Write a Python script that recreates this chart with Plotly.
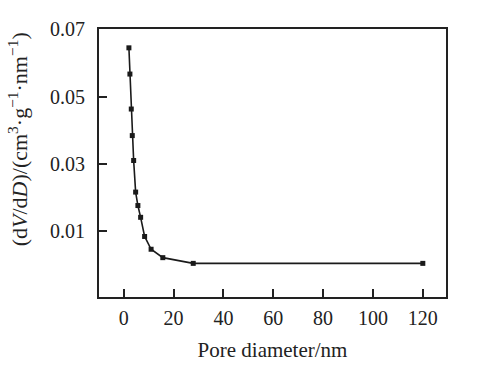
import plotly.graph_objects as go

pore_diameter = [2.1, 2.5, 3.05, 3.45, 4.0, 4.8, 5.7, 6.8, 8.4, 11.0, 15.7, 27.9, 120.0]
dv_dd = [0.0645, 0.0567, 0.0463, 0.0384, 0.0310, 0.0216, 0.0176, 0.0141, 0.0084, 0.0046, 0.0021, 0.0004, 0.0004]

x_ticks = [0, 20, 40, 60, 80, 100, 120]
y_ticks = [0.01, 0.03, 0.05, 0.07]

font_family = "Liberation Serif, Times New Roman, serif"

fig = go.Figure()
fig.add_trace(go.Scatter(
    x=pore_diameter, y=dv_dd, mode="lines+markers",
    line=dict(color="#1a1a1a", width=1.6),
    marker=dict(symbol="square", size=5, color="#1a1a1a"),
    showlegend=False,
))

fig.update_layout(
    width=478, height=373,
    margin=dict(l=99, r=32, t=29, b=76),
    paper_bgcolor="white", plot_bgcolor="white",
    font=dict(family=font_family, color="#222", size=20),
    xaxis=dict(
        range=[-9.9, 129.3], tickvals=x_ticks, ticks="inside", ticklen=8,
        tickwidth=1.5, tickcolor="#222",
        showline=True, linecolor="#222", linewidth=2, mirror=True,
        showgrid=False, zeroline=False,
        tickfont=dict(size=20), ticklabelstandoff=2,
        title=dict(text="Pore diameter/nm", font=dict(size=21), standoff=14),
    ),
    yaxis=dict(
        range=[-0.0096, 0.0701], tickvals=y_ticks, tickformat=".2f",
        ticks="inside", ticklen=8, tickwidth=1.5, tickcolor="#222",
        showline=True, linecolor="#222", linewidth=2, mirror=True,
        showgrid=False, zeroline=False,
        tickfont=dict(size=20), ticklabelstandoff=8,
    ),
    annotations=[dict(
        text="(d<i>V</i>/d<i>D</i>)/(cm<sup>3</sup>·g<sup>−1</sup>·nm<sup>−1</sup>)",
        xref="paper", yref="paper", x=-0.235, y=0.59,
        xanchor="center", yanchor="middle", textangle=-90,
        showarrow=False, font=dict(size=22, family=font_family, color="#222"),
    )],
)

fig.write_html("out.html")
